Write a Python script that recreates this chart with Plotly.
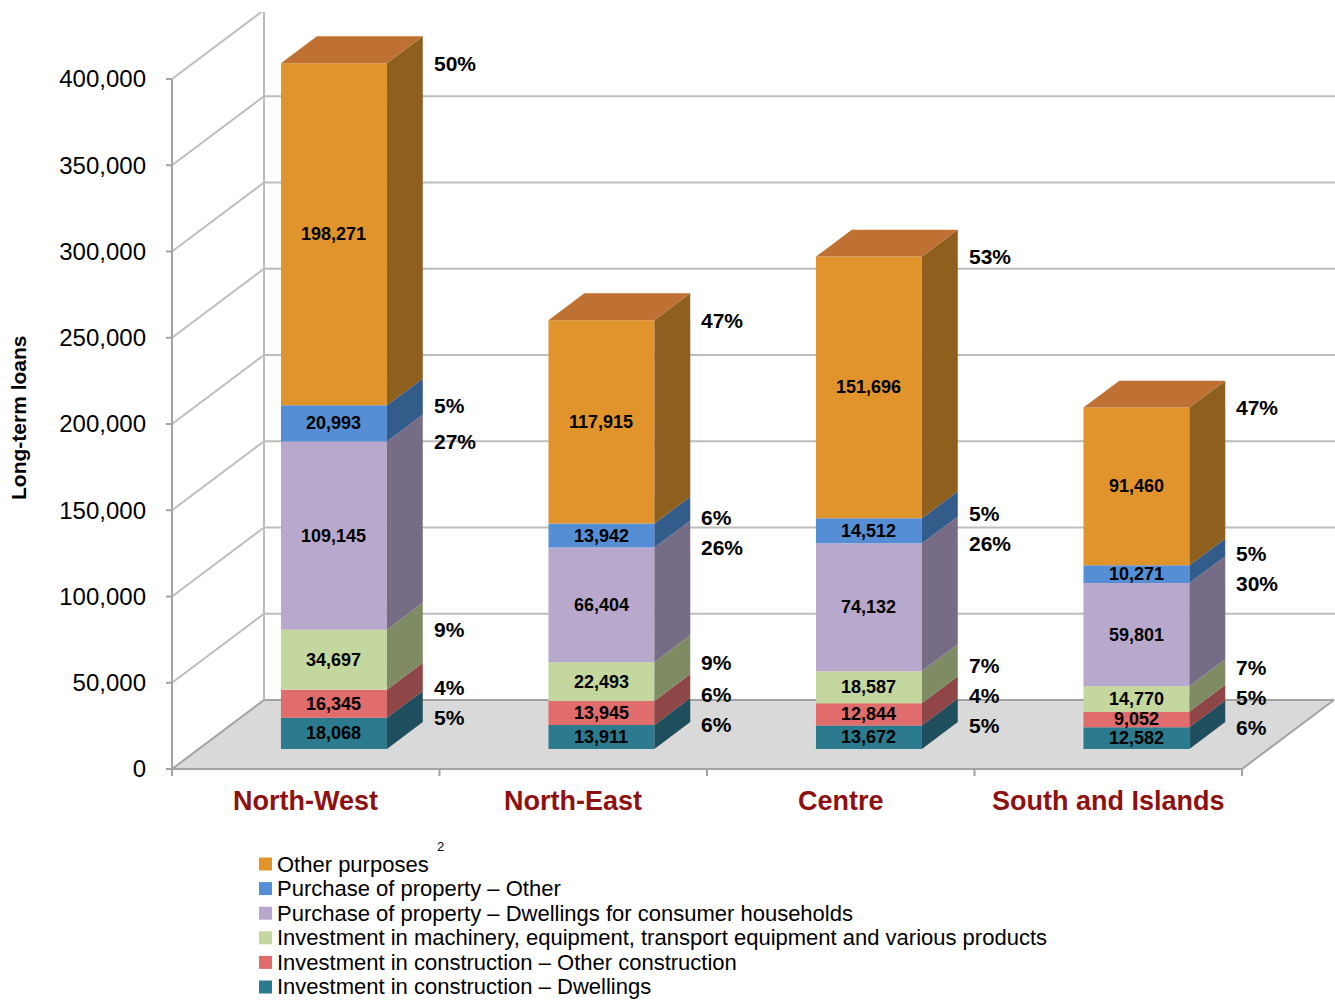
import plotly.graph_objects as go

# ---------------- data ----------------
regions = ["North-West", "North-East", "Centre", "South and Islands"]

# series listed bottom -> top of the stack
series_names = [
    "Investment in construction – Dwellings",
    "Investment in construction – Other construction",
    "Investment in machinery, equipment, transport equipment and various products",
    "Purchase of property – Dwellings for consumer households",
    "Purchase of property – Other",
    "Other purposes",
]
inv_dwellings = [18068, 13911, 13672, 12582]
inv_other_constr = [16345, 13945, 12844, 9052]
inv_machinery = [34697, 22493, 18587, 14770]
purch_dwellings = [109145, 66404, 74132, 59801]
purch_other = [20993, 13942, 14512, 10271]
other_purposes = [198271, 117915, 151696, 91460]

pct_inv_dwellings = [5, 6, 5, 6]
pct_inv_other_constr = [4, 6, 4, 5]
pct_inv_machinery = [9, 9, 7, 7]
pct_purch_dwellings = [27, 26, 26, 30]
pct_purch_other = [5, 6, 5, 5]
pct_other_purposes = [50, 47, 53, 47]

y_ticks = [0, 50000, 100000, 150000, 200000, 250000, 300000, 350000, 400000]

series_values = [inv_dwellings, inv_other_constr, inv_machinery,
                 purch_dwellings, purch_other, other_purposes]
series_pcts = [pct_inv_dwellings, pct_inv_other_constr, pct_inv_machinery,
               pct_purch_dwellings, pct_purch_other, pct_other_purposes]

# ---------------- styles ----------------
front_colors = ["#2C7A8E", "#E06C6C", "#C4D79F", "#B8A8CB", "#558ED5", "#E2942C"]
side_colors = ["#1F4E5C", "#8F4646", "#7F8B62", "#776C85", "#345C8A", "#8F5F1E"]
top_colors = ["#236272", "#B45656", "#9DAC7F", "#9386A2", "#4472AA", "#BE7133"]
grid_color = "#BDBDBD"
axis_color = "#A3A3A3"
cat_color = "#8E1111"
FONT = "Liberation Sans, Arial, sans-serif"

# ---------------- geometry (pixel based layout) ----------------
W, H = 1335, 1001
SX = 267.5          # px per category unit
SY = 0.001725       # px per value unit
FRONT_LEFT_PX = 172
ZERO_PX = 769
PLOT_LEFT_PX = 164
PLOT_RIGHT_PX = 1335
PLOT_TOP_PX = 12
PLOT_BOTTOM_PX = 778

DX = 92 / SX        # depth offset in x units
DY = 69 / SY        # depth offset in y units
Z0, Z1 = 0.29, 0.68  # bar depth (front, back) as fraction of depth
HALF_W = 0.198      # half bar width in category units
BAR_SHIFT = 1.5 / SX
N = len(regions)

x_min = (PLOT_LEFT_PX - FRONT_LEFT_PX) / SX
x_max = (PLOT_RIGHT_PX - FRONT_LEFT_PX) / SX
y_min = -(PLOT_BOTTOM_PX - ZERO_PX) / SY
y_max = (ZERO_PX - PLOT_TOP_PX) / SY
ymax_tick = max(y_ticks)


def P(u, v, z):
    return u + z * DX, v + z * DY


def poly(points, color, line_color=None, line_width=0):
    xs = [p[0] for p in points] + [points[0][0]]
    ys = [p[1] for p in points] + [points[0][1]]
    return go.Scatter(x=xs, y=ys, mode="lines", fill="toself", fillcolor=color,
                      line=dict(color=line_color or color, width=line_width),
                      hoverinfo="skip", showlegend=False)


def seg(points, color, width=2):
    return go.Scatter(x=[p[0] for p in points], y=[p[1] for p in points], mode="lines",
                      line=dict(color=color, width=width), hoverinfo="skip", showlegend=False)


fig = go.Figure()

# floor
floor = [P(0, 0, 0), P(N, 0, 0), P(N, 0, 1), P(0, 0, 1)]
fig.add_trace(poly(floor, "#D9D9D9", line_color=axis_color, line_width=2))

# back wall gridlines + left wall diagonals
for t in y_ticks[1:]:
    fig.add_trace(seg([P(0, t, 1), (x_max + 1, t + DY)], grid_color))
    fig.add_trace(seg([P(0, t, 0), P(0, t, 1)], grid_color))
# back-left vertical edge
fig.add_trace(seg([P(0, 0, 1), P(0, ymax_tick, 1)], grid_color))
# front-left axis line
fig.add_trace(seg([P(0, 0, 0), P(0, ymax_tick, 0)], axis_color))
# y tick marks
tick_len = 6 / SX
for t in y_ticks:
    fig.add_trace(seg([(-tick_len, t), (0, t)], axis_color))
# x tick marks at category boundaries
xt_len = 7 / SY
for k in range(N + 1):
    fig.add_trace(seg([(k, 0), (k, -xt_len)], axis_color))

annotations = []

# bars
for i in range(N):
    xc = i + 0.5 + BAR_SHIFT
    xl = xc - HALF_W
    xr = xc + HALF_W
    cum = 0
    label_prev_px = None
    for s, vals in enumerate(series_values):
        v = vals[i]
        lo, hi = cum, cum + v
        cum = hi
        front = [P(xl, lo, Z0), P(xr, lo, Z0), P(xr, hi, Z0), P(xl, hi, Z0)]
        side = [P(xr, lo, Z0), P(xr, lo, Z1), P(xr, hi, Z1), P(xr, hi, Z0)]
        fig.add_trace(poly(front, front_colors[s]))
        fig.add_trace(poly(side, side_colors[s]))
        # value label in the middle of the front face
        cxp, cyp = P(xc, (lo + hi) / 2, Z0)
        annotations.append(dict(x=cxp, y=cyp, xref="x", yref="y", text=f"<b>{v:,}</b>",
                                showarrow=False, font=dict(family=FONT, size=18, color="black"),
                                xanchor="center", yanchor="middle"))
        # percentage label to the right of the bar, near segment top, decluttered
        lx, _ = P(xr, hi, Z1)
        top_px = ZERO_PX - (hi + Z0 * DY) * SY
        if label_prev_px is not None and top_px > label_prev_px - 30:
            top_px = label_prev_px - 30
        label_prev_px = top_px
        ly_val = (ZERO_PX - top_px) / SY
        annotations.append(dict(x=lx, y=ly_val, xref="x", yref="y", text=f"<b>{series_pcts[s][i]}%</b>",
                                showarrow=False, font=dict(family=FONT, size=21, color="black"),
                                xanchor="left", yanchor="middle", xshift=9))
    top = [P(xl, cum, Z0), P(xr, cum, Z0), P(xr, cum, Z1), P(xl, cum, Z1)]
    fig.add_trace(poly(top, top_colors[-1]))

# category labels
for i, r in enumerate(regions):
    annotations.append(dict(x=i + 0.5, y=0, xref="x", yref="y", text=f"<b>{r}</b>",
                            showarrow=False, font=dict(family=FONT, size=27, color=cat_color),
                            xanchor="center", yanchor="middle", yshift=-32))

plot_w = PLOT_RIGHT_PX - PLOT_LEFT_PX
plot_h = PLOT_BOTTOM_PX - PLOT_TOP_PX


def px_x(px):
    return (px - PLOT_LEFT_PX) / plot_w


def px_y(py):
    return (PLOT_BOTTOM_PX - py) / plot_h


# y axis title
annotations.append(dict(x=px_x(18), y=px_y(418), xref="paper", yref="paper",
                        text="<b>Long-term loans</b>", textangle=-90, showarrow=False,
                        font=dict(family=FONT, size=21, color="black"),
                        xanchor="center", yanchor="middle"))

# legend (top -> bottom)
shapes = []
legend_order = list(range(len(series_names)))[::-1]
LEG_STEP = 24.6
for k, s in enumerate(legend_order):
    cy = 864 + LEG_STEP * k
    shapes.append(dict(type="rect", xref="paper", yref="paper",
                       x0=px_x(259), x1=px_x(272), y0=px_y(cy + 6.5), y1=px_y(cy - 6.5),
                       fillcolor=front_colors[s], line=dict(width=0)))
    annotations.append(dict(x=px_x(276), y=px_y(cy), xref="paper", yref="paper",
                            text=series_names[s], showarrow=False, borderpad=0,
                            font=dict(family=FONT, size=22, color="black"),
                            xanchor="left", yanchor="middle"))
annotations.append(dict(x=px_x(440), y=px_y(846), xref="paper", yref="paper", text="2",
                        showarrow=False, borderpad=0, font=dict(family=FONT, size=13, color="black"),
                        xanchor="center", yanchor="middle"))

fig.update_layout(
    width=W, height=H,
    margin=dict(l=PLOT_LEFT_PX, r=W - PLOT_RIGHT_PX, t=PLOT_TOP_PX, b=H - PLOT_BOTTOM_PX, pad=0),
    paper_bgcolor="white", plot_bgcolor="white",
    showlegend=False,
    xaxis=dict(range=[x_min, x_max], showgrid=False, zeroline=False, showline=False,
               showticklabels=False, ticks="", fixedrange=True),
    yaxis=dict(range=[y_min, y_max], showgrid=False, zeroline=False, showline=False,
               tickvals=y_ticks, tickformat=",", ticks="", ticklabelstandoff=17,
               tickfont=dict(family=FONT, size=24, color="black"), fixedrange=True),
    annotations=annotations,
    shapes=shapes,
    font=dict(family=FONT),
)

fig.write_html("out.html")
